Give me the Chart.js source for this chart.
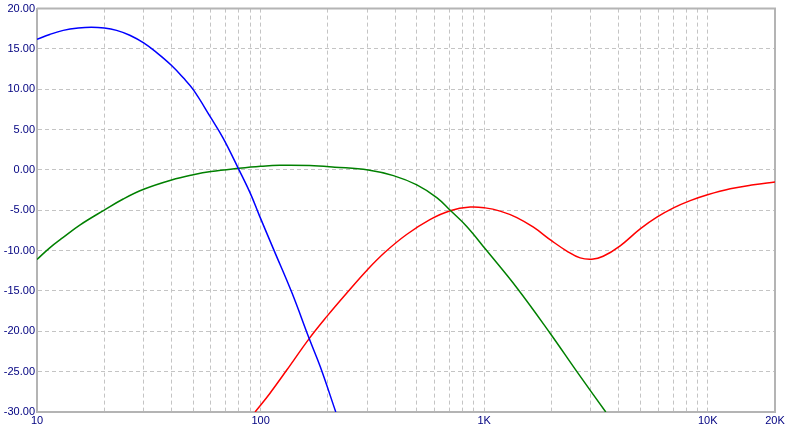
<!DOCTYPE html>
<html>
<head>
<meta charset="utf-8">
<script src="https://cdn.jsdelivr.net/npm/chart.js@4"></script>
<style>
  body { margin: 0; background: #fff; }
  #wrap { width: 788px; height: 429px; }
</style>
</head>
<body>
<div id="wrap"><canvas id="response-chart"></canvas></div>
<script>
// values (Hz / dB)
let blueFreq = [10, 11.4, 13.1, 15.3, 17.5, 20, 22.7, 26, 30, 34.3, 40, 45, 50, 60, 68, 79.5, 90, 98.6, 115, 138, 165, 185, 217];
let blueGain = [16.2, 16.8, 17.3, 17.6, 17.7, 17.6, 17.3, 16.7, 15.75, 14.55, 12.95, 11.45, 9.95, 6.45, 3.95, 0.2, -2.9, -5.6, -10.0, -15.2, -20.9, -24.4, -30];

let greenFreq = [10, 11.4, 13.1, 15.6, 20, 24.3, 30, 40, 50, 60, 80, 100, 122, 166, 215, 303, 393, 500, 616, 705, 836, 1020, 1400, 1980, 2600, 3500];
let greenGain = [-11.1, -9.65, -8.35, -6.8, -4.97, -3.6, -2.4, -1.25, -0.6, -0.2, 0.2, 0.45, 0.58, 0.55, 0.35, 0.0, -0.7, -1.85, -3.45, -5.0, -7.0, -9.9, -14.6, -20.3, -25.0, -30];

let redFreq = [94.5, 110, 131, 165, 198, 244, 302, 360, 450, 572, 705, 866, 1010, 1179, 1401, 1662, 2009, 2344, 2689, 3033, 3407, 4060, 4989, 5925, 7031, 8350, 9980, 12610, 16030, 20000];
let redGain = [-30, -27.7, -24.8, -20.9, -18.15, -15.2, -12.3, -10.2, -8.0, -6.15, -5.05, -4.6, -4.7, -5.1, -5.9, -7.1, -8.8, -10.05, -10.9, -11.07, -10.7, -9.4, -7.3, -5.85, -4.7, -3.8, -3.07, -2.33, -1.84, -1.5];

let xTickValues = [10, 20, 30, 40, 50, 60, 70, 80, 90,
  100, 200, 300, 400, 500, 600, 700, 800, 900,
  1000, 2000, 3000, 4000, 5000, 6000, 7000, 8000, 9000, 10000, 20000];
let xTickLabels = { 10: "10", 100: "100", 1000: "1K", 10000: "10K", 20000: "20K" };

let gridColor = "#c4c4c4";
let frameColor = "#b4b4b4";
let labelFont = { family: "Liberation Sans, Arial, sans-serif", size: 11 };

function toPoints(freqs, gains) {
  return freqs.map((f, i) => ({ x: f, y: gains[i] }));
}

function curve(freqs, gains, color) {
  return {
    label: "",
    data: toPoints(freqs, gains),
    borderColor: color,
    borderWidth: 1.5,
    pointRadius: 0,
    tension: 0.4,
    fill: false,
  };
}

// top and right frame lines
let framePlugin = {
  id: "frame",
  beforeDatasetsDraw(chart) {
    let a = chart.chartArea;
    let c = chart.ctx;
    c.save();
    c.strokeStyle = frameColor;
    c.lineWidth = 2;
    c.beginPath();
    c.moveTo(a.left, a.top);
    c.lineTo(a.right, a.top);
    c.lineTo(a.right, a.bottom);
    c.stroke();
    c.restore();
  },
};

new Chart(document.getElementById("response-chart").getContext("2d"), {
  type: "line",
  data: {
    datasets: [
      curve(blueFreq, blueGain, "#0000ff"),
      curve(greenFreq, greenGain, "#008000"),
      curve(redFreq, redGain, "#ff0000"),
    ],
  },
  options: {
    responsive: true,
    maintainAspectRatio: false,
    animation: false,
    layout: { padding: { top: 6, right: 13, left: 0, bottom: 0 } },
    plugins: {
      legend: { display: false },
      tooltip: { enabled: false },
    },
    scales: {
      x: {
        type: "logarithmic",
        min: 10,
        max: 20000,
        afterBuildTicks: (scale) => {
          scale.ticks = xTickValues.map((v) => ({ value: v }));
        },
        afterFit: (scale) => {
          scale.height = 17;
        },
        ticks: {
          autoSkip: false,
          maxRotation: 0,
          padding: 2,
          color: "#000080",
          font: labelFont,
          callback: (value) => xTickLabels[value] || "",
        },
        grid: {
          drawTicks: false,
          color: (ctx) =>
            ctx.tick && (ctx.tick.value === 10 || ctx.tick.value === 20000) ? "rgba(0,0,0,0)" : gridColor,
        },
        border: { color: frameColor, width: 2, dash: [4, 3] },
      },
      y: {
        min: -30,
        max: 20,
        afterFit: (scale) => {
          scale.width = 37;
        },
        ticks: {
          stepSize: 5,
          padding: 2,
          color: "#000080",
          font: labelFont,
          callback: (value) => value.toFixed(2),
        },
        grid: {
          drawTicks: false,
          color: gridColor,
        },
        border: { color: frameColor, width: 2, dash: [4, 3] },
      },
    },
  },
  plugins: [framePlugin],
});
</script>
</body>
</html>
